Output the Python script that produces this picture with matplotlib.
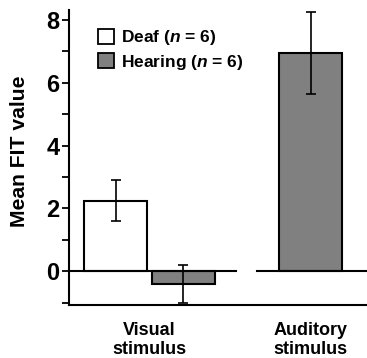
import matplotlib
matplotlib.use('Agg')
import matplotlib.pyplot as plt
from matplotlib.patches import Patch

plt.rcParams['font.family'] = 'Liberation Sans'
plt.rcParams['font.weight'] = 'bold'
plt.rcParams['axes.labelweight'] = 'bold'
plt.rcParams['mathtext.fontset'] = 'custom'
plt.rcParams['mathtext.rm'] = 'Liberation Sans:bold'
plt.rcParams['mathtext.it'] = 'Liberation Sans:bold:italic'

# data
groups = ['Visual\nstimulus', 'Auditory\nstimulus']
deaf_mean = [2.25]          # deaf only tested with visual stimulus
deaf_err = [0.65]
hearing_mean = [-0.42, 6.95]
hearing_err = [0.6, 1.32]
labels = [r'Deaf ($\mathit{n}$ = 6)', r'Hearing ($\mathit{n}$ = 6)']

w = 0.39
off = 0.21
fig = plt.figure(figsize=(3.67, 3.58), dpi=100)
ax = fig.add_axes([0.188, 0.148, 0.812, 0.824])

ekw = dict(elinewidth=1.2, capsize=3.5, capthick=1.2, ecolor='black')
ax.bar([0 - off], deaf_mean, w, yerr=deaf_err, color='white', edgecolor='black',
       linewidth=1.5, error_kw=ekw, zorder=2)
ax.bar([0 + off, 1], hearing_mean, w, yerr=hearing_err, color='#808080',
       edgecolor='black', linewidth=1.5, error_kw=ekw, zorder=2)

# zero lines, broken between the two groups
ax.plot([-0.5, 0.536], [0, 0], color='black', lw=1.5, zorder=3, clip_on=False)
ax.plot([0.666, 1.35], [0, 0], color='black', lw=1.5, zorder=3, clip_on=False)

ax.set_xlim(-0.5, 1.35)
ax.set_ylim(-1.08, 8.32)
ax.set_yticks(range(-1, 9))
ax.set_yticklabels(['' if v % 2 else str(v) for v in range(-1, 9)])
ax.tick_params(axis='y', direction='out', length=5, width=1.3, labelsize=17, pad=2)
ax.set_xticks([0, 1])
ax.set_xticklabels(groups, fontsize=13, linespacing=1.15)
ax.tick_params(axis='x', length=0, pad=12)
ax.set_ylabel('Mean FIT value', fontsize=15.2)
ax.yaxis.set_label_coords(-0.135, 0.52)

for s in ['top', 'right']:
    ax.spines[s].set_visible(False)
ax.spines['left'].set_linewidth(1.5)
ax.spines['bottom'].set_linewidth(1.5)

handles = [Patch(facecolor='white', edgecolor='black', linewidth=1.3),
           Patch(facecolor='#808080', edgecolor='black', linewidth=1.3)]
ax.legend(handles, labels, loc='upper left', bbox_to_anchor=(0.097, 0.938),
          frameon=False, fontsize=12.5, handlelength=0.92, handleheight=0.92,
          handletextpad=0.4, labelspacing=0.3, borderpad=0, borderaxespad=0)

fig.savefig('out.png', dpi=100)
